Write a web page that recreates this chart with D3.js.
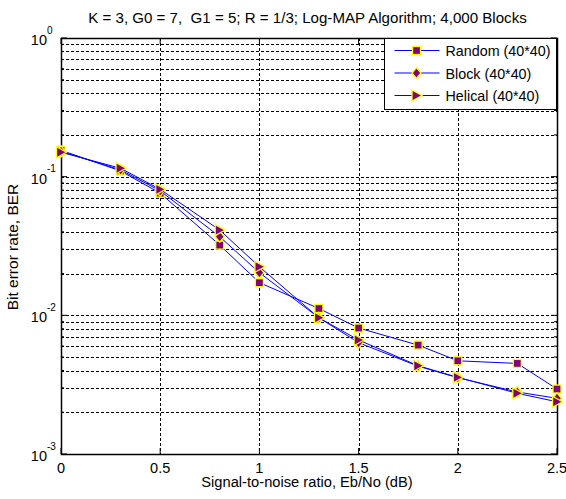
<!DOCTYPE html>
<html>
<head>
<meta charset="utf-8">
<script src="https://cdn.jsdelivr.net/npm/d3@7"></script>
<style>
  body { margin: 0; background: #fff; }
  text { font-family: "Liberation Sans", Arial, sans-serif; white-space: pre; }
</style>
</head>
<body>
<div id="chart"></div>
<script>
// data
const snr = [0, 0.3, 0.5, 0.8, 1.0, 1.3, 1.5, 1.8, 2.0, 2.3, 2.5];
const berRandom = [0.155, 0.110, 0.076, 0.0321, 0.0172, 0.0112, 0.0081, 0.0061, 0.0047, 0.0045, 0.00294];
const berBlock = [0.152, 0.112, 0.079, 0.0369, 0.0203, 0.0096, 0.00635, 0.0043, 0.00355, 0.0028, 0.00252];
const berHelical = [0.150, 0.115, 0.081, 0.0412, 0.0224, 0.0096, 0.00664, 0.00433, 0.00357, 0.00274, 0.00238];
const seriesNames = ["Random (40*40)", "Block (40*40)", "Helical (40*40)"];
const seriesMarkers = ["square", "diamond", "triangle"];
const xTicks = [0, 0.5, 1, 1.5, 2, 2.5];
const yDecades = [-3, -2, -1, 0];

const WIDTH = 566, HEIGHT = 499;
const margin = { top: 38, right: 9, bottom: 45, left: 61 };
const innerWidth = WIDTH - margin.left - margin.right;
const innerHeight = HEIGHT - margin.top - margin.bottom;

const svg = d3.select('#chart').append('svg')
    .attr('width', WIDTH)
    .attr('height', HEIGHT);

const x = d3.scaleLinear().domain([0, 2.5]).range([0, innerWidth]);
const y = d3.scaleLog().domain([1e-3, 1]).range([innerHeight, 0]);

const g = svg.append('g').attr('transform', `translate(${margin.left},${margin.top})`);

// grid lines (major + minor decades)
let minorY = [];
[-3, -2, -1].forEach(p => { for (let k = 1; k <= 9; k++) minorY.push(k * Math.pow(10, p)); });
minorY.push(1);

g.append('g').selectAll('line')
    .data(minorY)
    .enter().append('line')
    .attr('x1', 0).attr('x2', innerWidth)
    .attr('y1', d => Math.round(y(d)) + 0.5).attr('y2', d => Math.round(y(d)) + 0.5)
    .attr('stroke', '#000').attr('stroke-width', 1)
    .attr('stroke-dasharray', '3,2');

g.append('g').selectAll('line')
    .data(xTicks)
    .enter().append('line')
    .attr('x1', d => Math.round(x(d)) + 0.5).attr('x2', d => Math.round(x(d)) + 0.5)
    .attr('y1', 0).attr('y2', innerHeight)
    .attr('stroke', '#000').attr('stroke-width', 1)
    .attr('stroke-dasharray', '3,2');

// frame
g.append('rect')
    .attr('x', 0.5).attr('y', 0.5)
    .attr('width', innerWidth).attr('height', innerHeight)
    .attr('fill', 'none').attr('stroke', '#000').attr('stroke-width', 1.5);

// inward tick marks
minorY.forEach(d => {
    const len = Number.isInteger(Math.log10(d)) ? 6 : 3;
    g.append('line').attr('x1', 0).attr('x2', len)
        .attr('y1', y(d)).attr('y2', y(d)).attr('stroke', '#000');
    g.append('line').attr('x1', innerWidth).attr('x2', innerWidth - len)
        .attr('y1', y(d)).attr('y2', y(d)).attr('stroke', '#000');
});
xTicks.forEach(d => {
    g.append('line').attr('x1', x(d)).attr('x2', x(d))
        .attr('y1', innerHeight).attr('y2', innerHeight - 6).attr('stroke', '#000');
    g.append('line').attr('x1', x(d)).attr('x2', x(d))
        .attr('y1', 0).attr('y2', 6).attr('stroke', '#000');
});

// x tick labels
g.append('g').selectAll('text')
    .data(xTicks)
    .enter().append('text')
    .attr('x', d => x(d))
    .attr('y', innerHeight + 19)
    .attr('text-anchor', 'middle')
    .style('font-size', '14.5px')
    .text(d => d);

// y tick labels, 10 with superscript
const yl = g.append('g');
yDecades.forEach(p => {
    const yy = y(Math.pow(10, p));
    yl.append('text')
        .attr('x', -14).attr('y', yy + 7)
        .attr('text-anchor', 'end')
        .style('font-size', '14.5px')
        .text('10');
    yl.append('text')
        .attr('x', -14).attr('y', yy - 4.5)
        .attr('text-anchor', 'start')
        .style('font-size', '10px')
        .text(p);
});

// titles
svg.append('text')
    .attr('x', 307.5)
    .attr('y', 23)
    .attr('text-anchor', 'middle')
    .style('font-size', '15.1px')
    .text('K = 3, G0 = 7,  G1 = 5; R = 1/3; Log-MAP Algorithm; 4,000 Blocks');

svg.append('text')
    .attr('x', 307)
    .attr('y', 487)
    .attr('text-anchor', 'middle')
    .style('font-size', '14.7px')
    .text('Signal-to-noise ratio, Eb/No (dB)');

svg.append('text')
    .attr('transform', `translate(18, 247) rotate(-90)`)
    .attr('text-anchor', 'middle')
    .style('font-size', '15.5px')
    .text('Bit error rate, BER');

// series
const allSeries = [berRandom, berBlock, berHelical];
const line = d3.line().x(d => x(d[0])).y(d => y(d[1]));

function drawMarker(sel, type, cx, cy) {
    if (type === 'square') {
        sel.append('rect')
            .attr('x', cx - 4).attr('y', cy - 4)
            .attr('width', 8).attr('height', 8)
            .attr('fill', '#800080').attr('stroke', '#ffff00').attr('stroke-width', 1.3);
    } else if (type === 'diamond') {
        sel.append('path')
            .attr('d', `M${cx},${cy - 5.5}L${cx + 4.5},${cy}L${cx},${cy + 5.5}L${cx - 4.5},${cy}Z`)
            .attr('fill', '#800080').attr('stroke', '#ffff00').attr('stroke-width', 1.3);
    } else {
        sel.append('path')
            .attr('d', `M${cx - 4.5},${cy - 5.5}L${cx + 5.5},${cy}L${cx - 4.5},${cy + 5.5}Z`)
            .attr('fill', '#800080').attr('stroke', '#ffff00').attr('stroke-width', 1.3);
    }
}

allSeries.forEach((vals, i) => {
    const pts = snr.map((s, j) => [s, vals[j]]);
    g.append('path')
        .attr('d', line(pts))
        .attr('fill', 'none')
        .attr('stroke', '#0000ff')
        .attr('stroke-width', 1);
    const mg = g.append('g');
    pts.forEach(p => drawMarker(mg, seriesMarkers[i], x(p[0]), y(p[1])));
});

// legend
const legend = svg.append('g').attr('transform', 'translate(384.5, 38.5)');
legend.append('rect')
    .attr('width', 172).attr('height', 71)
    .attr('fill', '#fff').attr('stroke', '#000').attr('stroke-width', 1);
seriesNames.forEach((name, i) => {
    const ly = 12 + i * 22.5;
    legend.append('line')
        .attr('x1', 10).attr('x2', 55)
        .attr('y1', ly).attr('y2', ly)
        .attr('stroke', '#0000ff').attr('stroke-width', 1);
    drawMarker(legend, seriesMarkers[i], 32, ly);
    legend.append('text')
        .attr('x', 61).attr('y', ly + 5.5)
        .style('font-size', '14.3px')
        .text(name);
});
</script>
</body>
</html>
